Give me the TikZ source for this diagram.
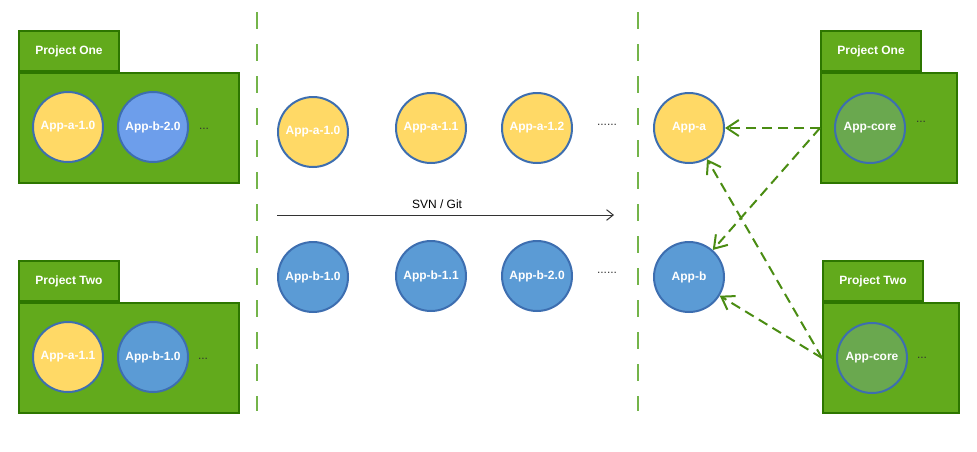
\documentclass[tikz,border=0pt]{standalone}
\usepackage{fontspec}
\setmainfont{Liberation Sans}
\usepackage{xcolor}
\usetikzlibrary{positioning,arrows.meta}
\definecolor{folderfill}{HTML}{62AA1C}
\definecolor{folderline}{HTML}{2D7600}
\definecolor{appyellow}{HTML}{FFD966}
\definecolor{appblue}{HTML}{5B9BD5}
\definecolor{appbluelight}{HTML}{6D9EEB}
\definecolor{appgreen}{HTML}{6AA84F}
\definecolor{circline}{HTML}{3D6EB0}
\definecolor{linkgreen}{HTML}{4A8C12}
\definecolor{sepgreen}{HTML}{74B44A}
\tikzset{
  appnode/.style={circle,draw=circline,line width=1.5pt,minimum size=52.5pt,inner sep=0pt,
    text=white,font=\fontsize{9pt}{11pt}\selectfont\bfseries},
  appa/.style={appnode,fill=appyellow},
  appb/.style={appnode,fill=appblue},
  appblight/.style={appnode,fill=appbluelight},
  appcore/.style={appnode,fill=appgreen},
  folderbody/.style={rectangle,draw=folderline,fill=folderfill,line width=1.5pt,inner sep=0pt,
    minimum height=82.5pt,anchor=north west},
  foldertab/.style={rectangle,draw=folderline,fill=folderfill,line width=1.5pt,inner sep=0pt,
    minimum width=75pt,minimum height=30pt,anchor=south west,
    text=white,font=\fontsize{9pt}{11pt}\selectfont\bfseries},
  moredots/.style={font=\fontsize{9pt}{11pt}\selectfont,text=black!80},
  sepline/.style={draw=sepgreen,line width=1.5pt,dash pattern=on 12.75pt off 11.25pt},
  deplink/.style={draw=linkgreen,line width=1.5pt,dash pattern=on 7.5pt off 4.5pt,
    -{Straight Barb[length=9pt,width=12pt]}},
  vcsarrow/.style={draw=black!80,line width=0.75pt,-{Straight Barb[length=5pt,width=8pt]}}
}
\begin{document}
\begin{tikzpicture}[x=0.75pt,y=-0.75pt]
\useasboundingbox (0,0) rectangle (977,451);
% separators
\coordinate (s1t) at (257,12); \coordinate (s1b) at (257,411);
\coordinate (s2t) at (638,12); \coordinate (s2b) at (638,411);
\draw[sepline] (s1t) -- (s1b);
\draw[sepline] (s2t) -- (s2b);

% left: projects
\node[folderbody,minimum width=165pt] (p1l) at (18,72) {};
\node[foldertab] (p1lt) at (p1l.north west) {Project One};
\node[appa] (p1la) at (68,127) {App-a-1.0};
\node[appblight] (p1lb) at (153,127) {App-b-2.0};
\node[moredots] (p1ld) at (204,129) {...};

\node[folderbody,minimum width=165pt] (p2l) at (18,302) {};
\node[foldertab] (p2lt) at (p2l.north west) {Project Two};
\node[appa] (p2la) at (68,357) {App-a-1.1};
\node[appb] (p2lb) at (153,357) {App-b-1.0};
\node[moredots] (p2ld) at (203,359) {...};

% middle: versions
\node[appa] (a10) at (313,132) {App-a-1.0};
\node[appa] (a11) at (431,128) {App-a-1.1};
\node[appa] (a12) at (537,128) {App-a-1.2};
\node[moredots] (adots) at (607,125) {......};
\node[appb] (b10) at (313,277) {App-b-1.0};
\node[appb] (b11) at (431,276) {App-b-1.1};
\node[appb] (b20) at (537,276) {App-b-2.0};
\node[moredots] (bdots) at (607,273) {......};
\coordinate (vcsl) at (277,215); \coordinate (vcsr) at (614,215);
\draw[vcsarrow] (vcsl) -- (vcsr) node[pos=0.475,above=1pt,font=\fontsize{9pt}{11pt}\selectfont] (vcs) {SVN / Git};

% right: apps and projects
\node[appa] (pa) at (689,128) {App-a};
\node[appb] (pb) at (689,277) {App-b};

\node[folderbody,minimum width=102pt] (p1r) at (820,72) {};
\node[foldertab] (p1rt) at (p1r.north west) {Project One};
\node[appcore] (p1rc) at (870,128) {App-core};
\node[moredots] (p1rd) at (921,122) {...};

\node[folderbody,minimum width=102pt] (p2r) at (822,302) {};
\node[foldertab] (p2rt) at (p2r.north west) {Project Two};
\node[appcore] (p2rc) at (872,358) {App-core};
\node[moredots] (p2rd) at (922,358) {...};

\draw[deplink] (p1r.west) -- (pa);
\draw[deplink] (p1r.west) -- (pb);
\draw[deplink] (p2r.west) -- (pa);
\draw[deplink] (p2r.west) -- (pb);
\end{tikzpicture}
\end{document}
